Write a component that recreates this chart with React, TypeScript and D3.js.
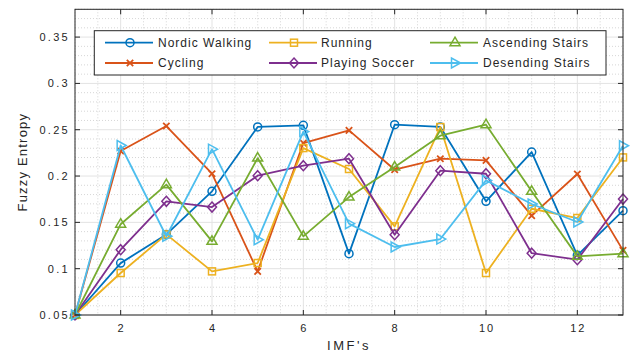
import React from "react";
import * as d3 from "d3";

const imfs = [1, 2, 3, 4, 5, 6, 7, 8, 9, 10, 11, 12, 13];
const nordicWalking = [0.05, 0.106, 0.137, 0.1835, 0.253, 0.2547, 0.1162, 0.2554, 0.253, 0.1727, 0.2259, 0.1144, 0.1626];
const cycling = [0.05, 0.227, 0.254, 0.2025, 0.0971, 0.2356, 0.2493, 0.2068, 0.2187, 0.2169, 0.1572, 0.2022, 0.1198];
const running = [0.05, 0.0953, 0.137, 0.0971, 0.1061, 0.2302, 0.2076, 0.1457, 0.2529, 0.0953, 0.1647, 0.1547, 0.2201];
const playingSoccer = [0.05, 0.1205, 0.1727, 0.1665, 0.2004, 0.2112, 0.2187, 0.1367, 0.2058, 0.2025, 0.1167, 0.1097, 0.1752];
const ascendingStairs = [0.05, 0.148, 0.1907, 0.1295, 0.2194, 0.1349, 0.1773, 0.2097, 0.2435, 0.2554, 0.1835, 0.1133, 0.1162];
const desendingStairs = [0.05, 0.233, 0.135, 0.229, 0.1313, 0.248, 0.1486, 0.1234, 0.132, 0.1953, 0.1698, 0.1504, 0.2327];

const seriesNames = ["Nordic Walking", "Cycling", "Running", "Playing Soccer", "Ascending Stairs", "Desending Stairs"];
const seriesValues = [nordicWalking, cycling, running, playingSoccer, ascendingStairs, desendingStairs];
const seriesColors = ["#0072BD", "#D95319", "#EDB120", "#7E2F8E", "#77AC30", "#4DBEEE"];
const seriesMarkers = ["circle", "x", "square", "diamond", "triUp", "triRight"];

const xTicks = [2, 4, 6, 8, 10, 12];
const yTicks = [0.05, 0.1, 0.15, 0.2, 0.25, 0.3, 0.35];
const yTickLabels = ["0.05", "0.1", "0.15", "0.2", "0.25", "0.3", "0.35"];

const W = 632, H = 354;
const L = 75, R = 623, T = 9.3, B = 315;
const FONT = "'Liberation Sans', Arial, Helvetica, sans-serif";
const INK = "#262626";

function Marker({ kind, x, y, color }: { kind: string; x: number; y: number; color: string }) {
  const sw = 1.5;
  const common = { fill: "none", stroke: color, strokeWidth: sw };
  switch (kind) {
    case "circle":
      return <circle cx={x} cy={y} r={4} {...common} />;
    case "x":
      return (
        <path d={`M${x - 3.2},${y - 3.2}L${x + 3.2},${y + 3.2}M${x - 3.2},${y + 3.2}L${x + 3.2},${y - 3.2}`} {...common} strokeWidth={1.8} />
      );
    case "square":
      return <rect x={x - 3.5} y={y - 3.5} width={7} height={7} {...common} />;
    case "diamond":
      return <path d={`M${x},${y - 5}L${x + 4.5},${y}L${x},${y + 5}L${x - 4.5},${y}Z`} {...common} />;
    case "triUp":
      return <path d={`M${x},${y - 5.5}L${x + 5},${y + 3}L${x - 5},${y + 3}Z`} {...common} />;
    case "triRight":
      return <path d={`M${x + 5.5},${y}L${x - 3.5},${y - 5}L${x - 3.5},${y + 5}Z`} {...common} />;
    default:
      return null;
  }
}

export default function App() {
  const x = d3.scaleLinear().domain([1, 13]).range([L, R]);
  const y = d3.scaleLinear().domain([0.05, 0.38]).range([B, T]);

  const line = d3
    .line<number>()
    .x((_, i) => x(imfs[i]))
    .y((d) => y(d));

  const xMinor = d3.range(1, 13.001, 0.5).filter((v) => !xTicks.includes(v));
  const yMinor = d3
    .range(0.05, 0.3801, 0.01)
    .map((v) => Math.round(v * 100) / 100)
    .filter((v) => Math.round(v * 100) % 5 !== 0);

  // legend layout (column-wise fill, 2 rows x 3 columns)
  const legLineX = [105, 269, 430];
  const legTextX = [158, 321, 483];
  const legRowY = [42.7, 63];

  return (
    <svg width={W} height={H} style={{ position: "absolute", left: 0, top: 0, background: "#fff" }} fontFamily={FONT}>
      <rect x={0} y={0} width={W} height={H} fill="#fff" />
      {/* minor grid */}
      {xMinor.map((v) => (
        <line key={"xm" + v} x1={x(v)} x2={x(v)} y1={T} y2={B} stroke="#c4c4c4" strokeWidth={0.7} strokeDasharray="1,2" />
      ))}
      {yMinor.map((v) => (
        <line key={"ym" + v} x1={L} x2={R} y1={y(v)} y2={y(v)} stroke="#c4c4c4" strokeWidth={0.7} strokeDasharray="1,2" />
      ))}
      {/* major grid */}
      {xTicks.map((v) => (
        <line key={"xg" + v} x1={x(v)} x2={x(v)} y1={T} y2={B} stroke="#e3e3e3" strokeWidth={1} />
      ))}
      {yTicks.map((v) => (
        <line key={"yg" + v} x1={L} x2={R} y1={y(v)} y2={y(v)} stroke="#e3e3e3" strokeWidth={1} />
      ))}

      {/* series */}
      {seriesValues.map((vals, si) => (
        <g key={seriesNames[si]}>
          <path d={line(vals) || ""} fill="none" stroke={seriesColors[si]} strokeWidth={1.8} strokeLinejoin="round" />
          {vals.map((v, i) => (
            <Marker key={i} kind={seriesMarkers[si]} x={x(imfs[i])} y={y(v)} color={seriesColors[si]} />
          ))}
        </g>
      ))}

      {/* axes box */}
      <rect x={L} y={T} width={R - L} height={B - T} fill="none" stroke={INK} strokeWidth={1} />
      {/* ticks */}
      {xTicks.map((v) => (
        <g key={"xt" + v}>
          <line x1={x(v)} x2={x(v)} y1={B} y2={B - 5} stroke={INK} strokeWidth={1} />
          <line x1={x(v)} x2={x(v)} y1={T} y2={T + 5} stroke={INK} strokeWidth={1} />
          <text x={x(v) + 1} y={332} textAnchor="middle" fontSize={11} fill={INK} letterSpacing={2}>
            {String(v)}
          </text>
        </g>
      ))}
      {yTicks.map((v, i) => (
        <g key={"yt" + v}>
          <line x1={L} x2={L + 5} y1={y(v)} y2={y(v)} stroke={INK} strokeWidth={1} />
          <line x1={R} x2={R - 5} y1={y(v)} y2={y(v)} stroke={INK} strokeWidth={1} />
          <text x={70} y={y(v) + 4} textAnchor="end" fontSize={11} fill={INK} letterSpacing={2.3}>
            {yTickLabels[i]}
          </text>
        </g>
      ))}

      {/* axis labels */}
      <text x={(L + R) / 2} y={350} textAnchor="middle" fontSize={13} fill={INK} letterSpacing={2.5}>
        IMF's
      </text>
      <text
        transform={`translate(27,${(T + B) / 2}) rotate(-90)`}
        textAnchor="middle"
        fontSize={13}
        fill={INK}
        letterSpacing={1.2}
      >
        Fuzzy Entropy
      </text>

      {/* legend */}
      <rect x={94.3} y={30.7} width={606 - 94.3} height={75 - 30.7} fill="#fff" stroke={INK} strokeWidth={1} />
      {seriesNames.map((name, si) => {
        const col = Math.floor(si / 2);
        const row = si % 2;
        const ly = legRowY[row];
        const lx = legLineX[col];
        return (
          <g key={"lg" + name}>
            <line x1={lx} x2={lx + 48} y1={ly} y2={ly} stroke={seriesColors[si]} strokeWidth={1.8} />
            <Marker kind={seriesMarkers[si]} x={lx + 25} y={ly} color={seriesColors[si]} />
            <text x={legTextX[col]} y={ly + 4.3} fontSize={12} fill={INK} letterSpacing={1}>
              {name}
            </text>
          </g>
        );
      })}
    </svg>
  );
}
